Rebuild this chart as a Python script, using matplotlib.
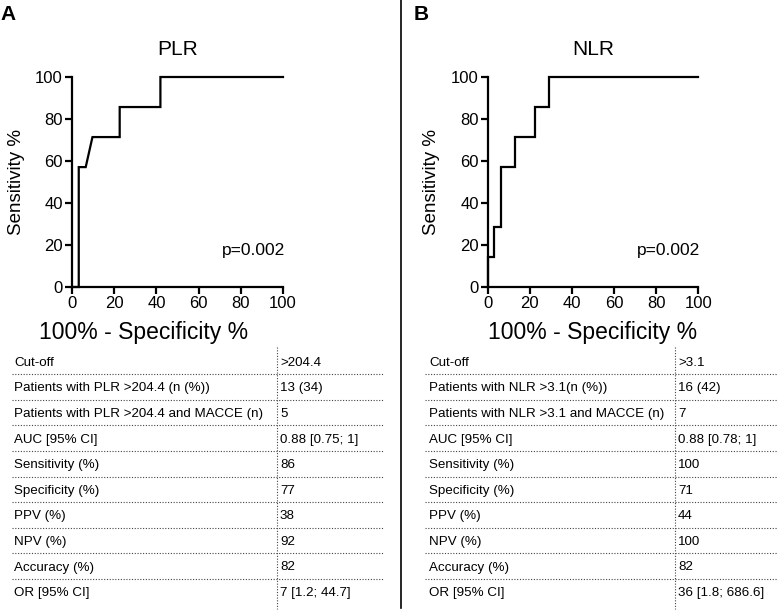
import numpy as np
import matplotlib
matplotlib.use("Agg")
import matplotlib.pyplot as plt

plt.rcParams['font.family'] = ['Liberation Sans', 'DejaVu Sans']

# ROC curves (100% - specificity, sensitivity)
plr_fpr = [0, 3.2, 3.2, 6.5, 9.7, 22.6, 22.6, 41.9, 41.9, 100]
plr_sens = [0, 0, 57.1, 57.1, 71.4, 71.4, 85.7, 85.7, 100, 100]
nlr_fpr = [0, 0, 3.2, 3.2, 6.5, 6.5, 12.9, 12.9, 22.6, 22.6, 29.0, 29.0, 100]
nlr_sens = [0, 14.3, 14.3, 28.6, 28.6, 57.1, 57.1, 71.4, 71.4, 85.7, 85.7, 100, 100]
ticks = [0, 20, 40, 60, 80, 100]

plr_rows = ["Cut-off", "Patients with PLR >204.4 (n (%))", "Patients with PLR >204.4 and MACCE (n)",
            "AUC [95% CI]", "Sensitivity (%)", "Specificity (%)", "PPV (%)", "NPV (%)",
            "Accuracy (%)", "OR [95% CI]"]
plr_vals = [">204.4", "13 (34)", "5", "0.88 [0.75; 1]", "86", "77", "38", "92", "82", "7 [1.2; 44.7]"]
nlr_rows = ["Cut-off", "Patients with NLR >3.1(n (%))", "Patients with NLR >3.1 and MACCE (n)",
            "AUC [95% CI]", "Sensitivity (%)", "Specificity (%)", "PPV (%)", "NPV (%)",
            "Accuracy (%)", "OR [95% CI]"]
nlr_vals = [">3.1", "16 (42)", "7", "0.88 [0.78; 1]", "100", "71", "44", "100", "82", "36 [1.8; 686.6]"]

W, H = 778, 613
fig = plt.figure(figsize=(W / 100, H / 100), dpi=100)

# overlay in pixel coordinates for table, letters and separator
ov = fig.add_axes([0, 0, 1, 1])
ov.set_xlim(0, W)
ov.set_ylim(H, 0)
ov.axis('off')

ov.plot([401, 401], [0, 608], color='k', lw=1.2)
ov.text(0, 14, "A", fontsize=15, fontweight='bold', va='center', ha='left')
ov.text(414, 14, "B", fontsize=15, fontweight='bold', va='center', ha='left')


def draw_roc(left, width, fpr, sens, title, xlab_x, ylab_x):
    ax = fig.add_axes([left / W, 1 - 287 / H, width / W, 210 / H])
    ax.plot(fpr, sens, color='k', lw=1.6, clip_on=False, solid_joinstyle='miter')
    ax.set_xlim(0, 100)
    ax.set_ylim(0, 100)
    ax.set_xticks(ticks)
    ax.set_yticks(ticks)
    for s in ['top', 'right']:
        ax.spines[s].set_visible(False)
    for s in ['left', 'bottom']:
        ax.spines[s].set_linewidth(1.6)
    ax.tick_params(direction='out', length=5, width=1.6, labelsize=12, pad=1.5)
    ax.set_title(title, fontsize=15, pad=16)
    ax.set_ylabel("Sensitivity %", fontsize=13.5)
    ax.yaxis.set_label_coords(ylab_x, 0.5)
    ax.set_xlabel("100% - Specificity %", fontsize=16.5)
    ax.xaxis.set_label_coords(xlab_x, -0.219)
    ax.xaxis.label.set_va('center')
    ax.text(101, 17.6, "p=0.002", fontsize=12.5, ha='right', va='center')
    return ax


draw_roc(72, 211, plr_fpr, plr_sens, "PLR", 0.34, -0.223)
draw_roc(487.7, 210.6, nlr_fpr, nlr_sens, "NLR", 0.5, -0.226)


def draw_table(x_text, x_div, x0, x1, rows, vals):
    ys = 362.7 + 25.6 * np.arange(len(rows))
    for y, r, v in zip(ys, rows, vals):
        ov.text(x_text, y, r, fontsize=9.6, va='center', ha='left')
        ov.text(x_div + 3, y, v, fontsize=9.6, va='center', ha='left')
    for y in ys[:-1] + 11.5:
        ov.plot([x0, x1], [y, y], color='#444444', lw=0.8, ls=(0, (1, 1.5)))
    ov.plot([x_div, x_div], [347, 609], color='#444444', lw=0.8, ls=(0, (1, 1.5)))


draw_table(14, 277, 12, 383, plr_rows, plr_vals)
draw_table(429, 675, 425, 778, nlr_rows, nlr_vals)

fig.savefig("out.png", dpi=100)
